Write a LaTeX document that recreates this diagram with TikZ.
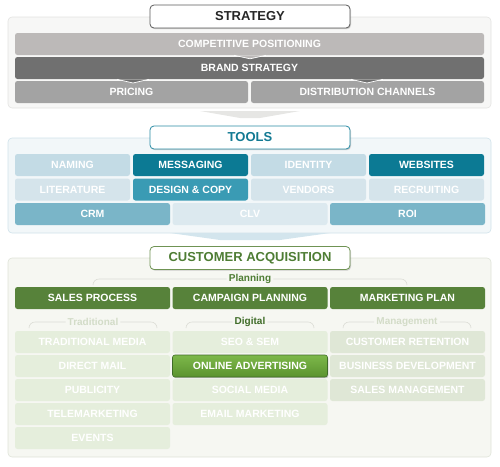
\documentclass[tikz,border=0pt]{standalone}
\usepackage{fontspec}
\setmainfont{Liberation Sans}
\usetikzlibrary{positioning, shadows}
\definecolor{strpanel}{HTML}{F7F7F6}
\definecolor{strline}{HTML}{E3E3E1}
\definecolor{strtitle}{HTML}{5A5A5A}
\definecolor{strcomp}{HTML}{BCB9B8}
\definecolor{strbrand}{HTML}{707070}
\definecolor{strrow}{HTML}{A3A3A3}
\definecolor{strarrow}{HTML}{E6E6E4}
\definecolor{toolpanel}{HTML}{F2F7F9}
\definecolor{toolline}{HTML}{D0E2EA}
\definecolor{tooltitle}{HTML}{2A8BA4}
\definecolor{tooltext}{HTML}{137A93}
\definecolor{tooldark}{HTML}{0C7A94}
\definecolor{toolmid}{HTML}{3A9BB4}
\definecolor{toolsoft}{HTML}{7AB5C8}
\definecolor{toolpale}{HTML}{C3DBE5}
\definecolor{toolpaler}{HTML}{D5E4EB}
\definecolor{toolfaint}{HTML}{DCE9EF}
\definecolor{toolarrow}{HTML}{D3E5ED}
\definecolor{acqpanel}{HTML}{F6F7F2}
\definecolor{acqline}{HTML}{DFE3D8}
\definecolor{acqtitle}{HTML}{6F9354}
\definecolor{acqtext}{HTML}{4E7D34}
\definecolor{acqplan}{HTML}{57823A}
\definecolor{acqpale}{HTML}{E5EEDC}
\definecolor{acqmgmt}{HTML}{DFE7D6}
\definecolor{acqfaint}{HTML}{D3DCC8}
\definecolor{acqdigital}{HTML}{3F6C28}
\definecolor{advtop}{HTML}{7DB84A}
\definecolor{advbottom}{HTML}{5B932F}
\definecolor{bracketgray}{HTML}{DCDDD6}
\tikzset{
  cell/.style={rounded corners=2.5pt, inner sep=0pt, outer sep=0pt, minimum height=22pt,
    text=white, font=\bfseries\fontsize{10.5}{12}\selectfont},
  quad/.style={cell, minimum width=115pt},
  third/.style={cell, minimum width=155pt},
  half/.style={cell, minimum width=233pt},
  wide/.style={cell, minimum width=469pt},
  titlebox/.style={draw, fill=white, rounded corners=4pt, line width=0.8pt, minimum width=200pt,
    minimum height=23pt, inner sep=0pt, font=\bfseries\fontsize{13}{15}\selectfont,
    drop shadow={shadow xshift=1pt, shadow yshift=-1.2pt, opacity=0.35}},
  panel/.style={rounded corners=4pt, line width=0.6pt},
  notch/.style={draw=white, line width=0.7pt},
  sublabel/.style={font=\bfseries\fontsize{10}{12}\selectfont, inner sep=2pt},
  bracket/.style={draw=bracketgray, line width=0.6pt, rounded corners=6pt},
  highlight/.style={third, top color=advtop, bottom color=advbottom, draw=acqdigital, line width=0.6pt,
    drop shadow={shadow xshift=0.8pt, shadow yshift=-1.2pt, opacity=0.4}}
}

\begin{document}
\begin{tikzpicture}[x=1pt, y=-1pt]
  \useasboundingbox (0,0) rectangle (500,466);

  % strategy
  \draw[panel, fill=strpanel, draw=strline] (8,17) rectangle (491,108);
  \node[wide, fill=strcomp, anchor=north west] (competitive) at (15,33) {COMPETITIVE POSITIONING};
  \node[wide, fill=strbrand, below=2pt of competitive] (brand) {BRAND STRATEGY};
  \node[half, fill=strrow, below=2pt of brand.south west, anchor=north west] (pricing) {PRICING};
  \node[half, fill=strrow, right=3pt of pricing] (distribution) {DISTRIBUTION CHANNELS};
  \filldraw[notch, fill=strcomp] (234,55.3) -- (250,58.8) -- (266,55.3);
  \filldraw[notch, fill=strbrand] (117,79.3) -- (133,83) -- (149,79.3);
  \filldraw[notch, fill=strbrand] (351,79.3) -- (367,83) -- (383,79.3);
  \node[titlebox, draw=strtitle, text=black!85] (strategy) at (250,16.5) {STRATEGY};
  \fill[strarrow] (200,111) -- (300,111) -- (260,118) -- (240,118) -- cycle;

  % tools
  \draw[panel, fill=toolpanel, draw=toolline] (8,138) rectangle (491,233);
  \node[quad, fill=toolpale, anchor=north west] (naming) at (15,154) {NAMING};
  \node[quad, fill=tooldark, right=3pt of naming] (messaging) {MESSAGING};
  \node[quad, fill=toolpale, right=3pt of messaging] (identity) {IDENTITY};
  \node[quad, fill=tooldark, right=3pt of identity] (websites) {WEBSITES};
  \node[quad, fill=toolpaler, below=2.5pt of naming] (literature) {LITERATURE};
  \node[quad, fill=toolmid, right=3pt of literature] (design) {DESIGN \& COPY};
  \node[quad, fill=toolpaler, right=3pt of design] (vendors) {VENDORS};
  \node[quad, fill=toolpaler, right=3pt of vendors] (recruiting) {RECRUITING};
  \node[third, fill=toolsoft, below=2.5pt of literature.south west, anchor=north west] (crm) {CRM};
  \node[third, fill=toolfaint, right=2.5pt of crm] (clv) {CLV};
  \node[third, fill=toolsoft, right=2.5pt of clv] (roi) {ROI};
  \node[titlebox, draw=tooltitle, text=tooltext] (tools) at (250,137.5) {TOOLS};
  \fill[toolarrow] (170,233) -- (330,233) -- (280,240) -- (220,240) -- cycle;

  % customer acquisition
  \draw[panel, fill=acqpanel, draw=acqline] (8,258) rectangle (491,457);
  \node[titlebox, draw=acqtitle, text=acqtext] (acquisition) at (250,258) {CUSTOMER ACQUISITION};
  \node[sublabel, text=acqtext] (planning) at (250,279) {Planning};
  \draw[bracket] (planning.west) -| (93,285);
  \draw[bracket] (planning.east) -| (407,285);
  \node[third, fill=acqplan, anchor=north west] (sales) at (15,287) {SALES PROCESS};
  \node[third, fill=acqplan, right=2.5pt of sales] (campaign) {CAMPAIGN PLANNING};
  \node[third, fill=acqplan, right=2.5pt of campaign] (marketing) {MARKETING PLAN};

  \node[sublabel, text=acqfaint] (traditional) at (93,322) {Traditional};
  \node[sublabel, text=acqdigital] (digital) at (250,322) {Digital};
  \node[sublabel, text=acqfaint] (management) at (407,322) {Management};
  \foreach \lbl/\c in {traditional/93, digital/250, management/407} {
    \draw[bracket] (\lbl.west) -| (\c-64,328);
    \draw[bracket] (\lbl.east) -| (\c+64,328);
  }

  \node[third, fill=acqpale, anchor=north west] (media) at (15,331) {TRADITIONAL MEDIA};
  \node[third, fill=acqpale, below=2pt of media] (directmail) {DIRECT MAIL};
  \node[third, fill=acqpale, below=2pt of directmail] (publicity) {PUBLICITY};
  \node[third, fill=acqpale, below=2pt of publicity] (telemarketing) {TELEMARKETING};
  \node[third, fill=acqpale, below=2pt of telemarketing] (events) {EVENTS};
  \node[third, fill=acqpale, right=2.5pt of media] (seo) {SEO \& SEM};
  \node[highlight, below=2pt of seo] (online) {ONLINE ADVERTISING};
  \node[third, fill=acqpale, below=2pt of online] (social) {SOCIAL MEDIA};
  \node[third, fill=acqpale, below=2pt of social] (email) {EMAIL MARKETING};
  \node[third, fill=acqmgmt, right=2.5pt of seo] (retention) {CUSTOMER RETENTION};
  \node[third, fill=acqmgmt, below=2pt of retention] (business) {BUSINESS DEVELOPMENT};
  \node[third, fill=acqmgmt, below=2pt of business] (salesmgmt) {SALES MANAGEMENT};
\end{tikzpicture}
\end{document}
